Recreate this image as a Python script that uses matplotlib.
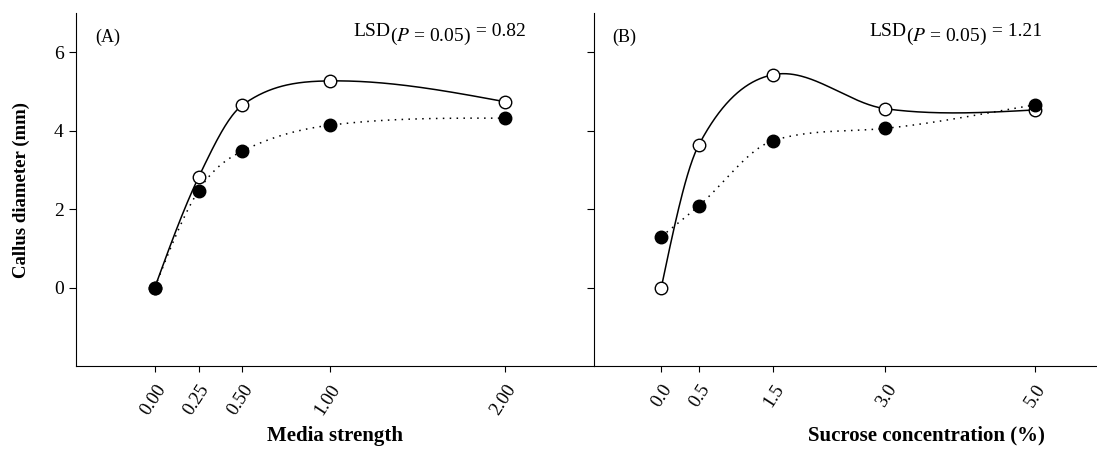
import numpy as np
import matplotlib
matplotlib.use("Agg")
import matplotlib.pyplot as plt

plt.rcParams['font.family'] = ['Liberation Serif', 'DejaVu Serif']
plt.rcParams['mathtext.fontset'] = 'stix'

# Data
media_x = [0.00, 0.25, 0.50, 1.00, 2.00]
media_open = [0.00, 2.81, 4.65, 5.27, 4.74]
media_filled = [0.00, 2.47, 3.48, 4.14, 4.32]
media_labels = ['0.00', '0.25', '0.50', '1.00', '2.00']

sucrose_x = [0.0, 0.5, 1.5, 3.0, 5.0]
sucrose_open = [0.00, 3.63, 5.43, 4.56, 4.53]
sucrose_filled = [1.30, 2.08, 3.75, 4.06, 4.66]
sucrose_labels = ['0.0', '0.5', '1.5', '3.0', '5.0']


def smooth_curve(x, y, n=300):
    # Hermite curve through the points (centred slopes, limited where they would overshoot)
    x = np.asarray(x, float)
    y = np.asarray(y, float)
    h = np.diff(x)
    d = np.diff(y) / h
    m = np.zeros(len(x))
    m[1:-1] = (y[2:] - y[:-2]) / (x[2:] - x[:-2])
    m[0] = (3 * d[0] - m[1]) / 2
    m[-1] = (3 * d[-1] - m[-2]) / 2
    for i in range(len(d)):
        if d[i] == 0:
            continue
        a, b = m[i] / d[i], m[i + 1] / d[i]
        if a > 0 and b > 0 and a * a + b * b > 9:
            t = 3 / np.sqrt(a * a + b * b)
            m[i], m[i + 1] = t * a * d[i], t * b * d[i]
    xs = np.linspace(x[0], x[-1], n)
    idx = np.clip(np.searchsorted(x, xs) - 1, 0, len(x) - 2)
    hh = h[idx]
    t = (xs - x[idx]) / hh
    h00 = 2 * t ** 3 - 3 * t ** 2 + 1
    h10 = t ** 3 - 2 * t ** 2 + t
    h01 = -2 * t ** 3 + 3 * t ** 2
    h11 = t ** 3 - t ** 2
    ys = h00 * y[idx] + h10 * hh * m[idx] + h01 * y[idx + 1] + h11 * hh * m[idx + 1]
    return xs, ys


fig = plt.figure(figsize=(10.97, 4.49), dpi=100)
axA = fig.add_axes([0.0693, 0.1849, 0.4722, 0.786])
axB = fig.add_axes([0.5415, 0.1849, 0.4585, 0.786])

panels = [
    (axA, media_x, media_open, media_filled, media_labels, (-0.45, 2.51),
     '(A)', '0.82', 'Media strength', 0.5, 0.535),
    (axB, sucrose_x, sucrose_open, sucrose_filled, sucrose_labels, (-0.9, 5.83),
     '(B)', '1.21', 'Sucrose concentration (%)', 0.66, 0.547),
]

for ax, x, yo, yf, labels, xlim, tag, lsd, xlabel, xlab_pos, lsd_x in panels:
    xs, ys = smooth_curve(x, yf)
    ax.plot(xs, ys, color='black', lw=1.1, ls=(0, (1, 3.5)))
    xs, ys = smooth_curve(x, yo)
    ax.plot(xs, ys, color='black', lw=1.1)
    ax.plot(x, yo, 'o', ms=9, mfc='white', mec='black', mew=1.0, zorder=3)
    ax.plot(x, yf, 'o', ms=9, mfc='black', mec='black', zorder=4)

    ax.set_xlim(*xlim)
    ax.set_ylim(-2, 7)
    ax.set_yticks([0, 2, 4, 6])
    ax.set_xticks(x)
    ax.set_xticklabels(labels, rotation=57, ha='right', va='top',
                       rotation_mode='anchor', fontsize=13.5)
    ax.tick_params(axis='y', direction='out', length=5, pad=4, labelsize=14)
    ax.tick_params(axis='x', direction='out', length=4, pad=7)
    for s in ['top', 'right']:
        ax.spines[s].set_visible(False)

    ax.set_xlabel(xlabel, fontsize=15, fontweight='bold', va='center')
    ax.xaxis.set_label_coords(xlab_pos, -0.198)

    ax.text(0.037, 0.955, tag, transform=ax.transAxes, fontsize=13, va='top')
    t1 = ax.text(lsd_x, 0.935, 'LSD', transform=ax.transAxes, fontsize=14,
                 va='baseline')
    t2 = ax.annotate(r'($\it{P}$ = 0.05)', xy=(1, 0), xycoords=t1,
                     xytext=(0, -5), textcoords='offset points',
                     fontsize=14, va='bottom')
    ax.annotate(' = ' + lsd, xy=(1, 0), xycoords=t2,
                xytext=(0, 5), textcoords='offset points',
                fontsize=14, va='bottom')

axB.set_yticklabels([])
axA.set_ylabel('Callus diameter (mm)', fontsize=13.5, fontweight='bold',
               va='center')
axA.yaxis.set_label_coords(-0.105, 0.5)

fig.savefig('out.png', dpi=100)
